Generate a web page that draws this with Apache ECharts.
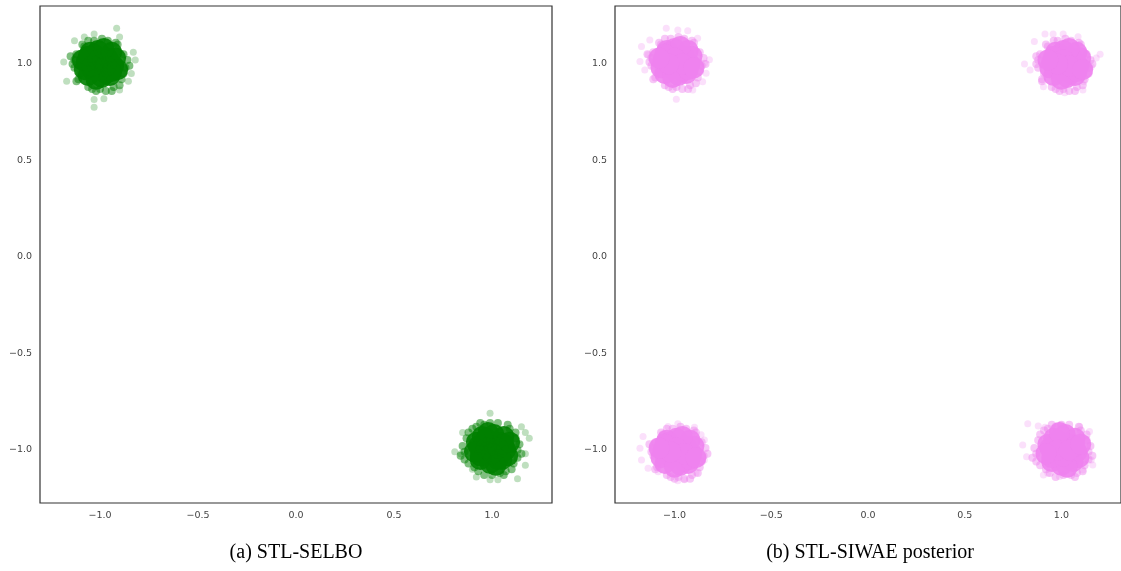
<!DOCTYPE html>
<html>
<head>
<meta charset="utf-8">
<script src="https://cdn.jsdelivr.net/npm/echarts@6/dist/echarts.min.js"></script>
<style>
  html, body { margin: 0; padding: 0; background: #fff; }
  #main { width: 1121px; height: 571px; }
</style>
</head>
<body>
<div id="main"></div>
<script>
// captions under each panel
var captions = ['(a) STL-SELBO', '(b) STL-SIWAE posterior'];

// (a) STL-SELBO, cluster near (-1, 1)
var selboA_core = [[-1.00,1.00],[-0.96,1.03],[-1.04,0.97],[-0.97,0.95],[-1.03,1.05],[-0.93,0.99],[-1.07,1.01],[-1.01,1.07],
  [-0.99,0.93],[-0.94,1.06],[-1.06,0.94],[-1.05,1.06],[-0.95,0.94],[-1.08,0.97],[-0.92,1.03],[-1.02,0.92],[-0.98,1.08],
  [-1.06,1.04],[-0.94,0.96],[-1.01,1.02],[-0.97,0.99],[-1.04,0.99],[-0.91,0.97],[-1.09,1.02]];
var selboA_ring = [[-0.88,1.05],[-0.87,0.98],[-0.89,0.92],[-0.93,0.88],[-1.00,0.87],[-1.06,0.88],[-1.11,0.92],[-1.13,0.98],
  [-1.12,1.05],[-1.09,1.10],[-1.03,1.12],[-0.96,1.12],[-0.91,1.10],[-0.86,1.02],[-0.90,0.89],[-1.13,1.02],[-1.10,0.95],
  [-0.97,0.86],[-1.04,0.87],[-1.08,1.09],[-0.92,1.11],[-0.99,1.13],[-1.14,1.00],[-0.88,0.95],[-1.12,0.91],[-1.06,1.12],
  [-0.85,0.99],[-0.94,0.86],[-1.15,1.04],[-1.02,0.86]];
var selboA_out = [[-0.915,1.185],[-0.90,1.14],[-0.83,1.06],[-0.82,1.02],[-0.84,0.95],[-0.855,0.91],[-0.90,0.865],[-0.98,0.82],
  [-1.03,0.815],[-1.03,0.775],[-1.185,1.01],[-1.17,0.91],[-1.13,1.12],[-1.03,1.155],[-1.08,1.14]];

// (a) STL-SELBO, cluster near (1, -1)
var selboB_core = [[1.00,-0.99],[1.04,-0.96],[0.96,-1.02],[1.03,-1.05],[0.97,-0.94],[1.07,-1.00],[0.93,-0.98],[0.99,-1.07],
  [1.01,-0.92],[1.06,-0.93],[0.94,-1.05],[1.05,-1.05],[0.95,-0.93],[1.08,-1.03],[0.92,-0.96],[1.02,-1.08],[0.98,-0.91],
  [0.94,-1.03],[1.06,-0.97],[1.00,-1.02],[0.97,-0.99],[1.03,-0.99],[0.91,-1.01],[1.09,-0.96]];
var selboB_ring = [[1.12,-0.94],[1.13,-1.00],[1.11,-1.07],[1.07,-1.11],[1.00,-1.13],[0.93,-1.11],[0.88,-1.07],[0.86,-1.01],
  [0.87,-0.94],[0.90,-0.89],[0.96,-0.87],[1.03,-0.86],[1.09,-0.89],[1.14,-0.97],[1.10,-1.10],[0.85,-0.98],[0.88,-0.91],
  [1.04,-1.12],[0.96,-1.13],[0.91,-1.09],[1.08,-0.87],[0.99,-0.86],[1.13,-1.04],[0.86,-1.05],[0.92,-0.88],[1.12,-0.91],
  [1.15,-1.02],[0.84,-1.03],[1.06,-1.13],[0.94,-0.86]];
var selboB_out = [[0.99,-0.81],[1.17,-0.91],[1.19,-0.94],[1.17,-1.02],[1.17,-1.08],[1.13,-1.15],[1.03,-1.155],[0.99,-1.155],
  [0.81,-1.01],[0.84,-1.02],[0.85,-0.91],[0.90,-1.10],[1.15,-0.88],[0.92,-1.14]];

// (b) STL-SIWAE posterior, four clusters
var siwaeC_core = [[-0.99,1.01],[-0.95,1.04],[-1.02,0.98],[-0.96,0.96],[-1.03,1.06],[-0.92,1.00],[-1.06,1.02],[-1.00,1.08],
  [-0.98,0.94],[-0.93,1.07],[-1.05,0.95],[-1.04,1.07],[-0.94,0.95],[-1.07,0.98],[-0.91,1.04],[-1.01,0.93],[-0.97,1.09],
  [-1.05,1.05],[-0.93,0.97],[-1.00,1.03],[-0.96,1.00],[-1.03,1.00],[-0.90,0.98],[-1.08,1.03]];
var siwaeC_ring = [[-0.87,1.06],[-0.86,0.99],[-0.88,0.93],[-0.92,0.89],[-0.99,0.88],[-1.05,0.89],[-1.10,0.93],[-1.12,0.99],
  [-1.11,1.06],[-1.08,1.11],[-1.02,1.13],[-0.95,1.13],[-0.90,1.11],[-0.85,1.03],[-0.89,0.90],[-1.12,1.03],[-1.09,0.96],
  [-0.96,0.87],[-1.03,0.88],[-1.07,1.10],[-0.91,1.12],[-0.98,1.14],[-1.13,1.01],[-0.87,0.96],[-1.11,0.92],[-1.05,1.13],
  [-0.84,1.00],[-0.93,0.87],[-1.14,1.05],[-1.01,0.87]];
var siwaeC_out = [[-1.043,1.185],[-0.983,1.176],[-0.932,1.172],[-0.881,1.133],[-0.82,1.021],[-0.846,1.004],[-0.837,0.952],
  [-0.855,0.908],[-0.906,0.865],[-0.991,0.817],[-1.179,1.012],[-1.171,1.09],[-1.128,1.124],[-1.137,1.047],[-1.154,0.969]];

var siwaeD_core = [[1.02,1.00],[1.06,1.03],[0.98,0.97],[1.05,0.95],[0.99,1.05],[1.09,0.99],[0.95,1.01],[1.01,1.07],
  [1.03,0.93],[1.08,1.06],[0.96,0.94],[0.97,1.06],[1.07,0.94],[0.94,0.98],[1.10,1.03],[1.00,0.92],[1.04,1.08],
  [0.96,1.04],[1.08,0.96],[1.01,1.02],[1.04,0.99],[0.98,1.00],[1.11,0.97],[0.93,1.02]];
var siwaeD_ring = [[1.13,1.05],[1.14,0.98],[1.12,0.92],[1.08,0.88],[1.01,0.87],[0.95,0.88],[0.90,0.92],[0.88,0.98],
  [0.89,1.05],[0.92,1.10],[0.98,1.12],[1.05,1.12],[1.10,1.10],[1.15,1.02],[1.11,0.89],[0.88,1.02],[0.91,0.95],
  [1.04,0.86],[0.97,0.87],[0.93,1.09],[1.09,1.11],[1.02,1.13],[0.87,1.00],[1.14,0.95],[0.90,0.91],[0.96,1.12],
  [1.16,1.00],[1.07,0.86],[0.87,1.04],[0.99,0.86]];
var siwaeD_out = [[0.809,1.0],[0.915,1.155],[0.957,1.155],[1.009,1.155],[0.86,1.116],[1.2,1.05],[1.18,1.03],[1.154,0.986],
  [1.116,0.908],[1.111,0.865],[1.017,0.851],[0.907,0.882],[0.838,0.969],[1.086,1.141]];

var siwaeE_core = [[-0.98,-1.01],[-0.94,-0.98],[-1.02,-1.04],[-0.95,-1.06],[-1.03,-0.96],[-0.91,-1.02],[-1.06,-1.00],
  [-0.99,-0.94],[-0.97,-1.08],[-0.92,-0.95],[-1.05,-1.07],[-1.04,-0.95],[-0.93,-1.07],[-1.07,-1.04],[-0.90,-0.98],
  [-1.00,-1.09],[-0.96,-0.93],[-1.05,-0.97],[-0.92,-1.05],[-0.99,-0.99],[-0.95,-1.02],[-1.02,-1.01],[-0.89,-1.04],[-1.08,-0.99]];
var siwaeE_ring = [[-0.86,-0.96],[-0.85,-1.03],[-0.87,-1.09],[-0.91,-1.13],[-0.98,-1.14],[-1.04,-1.13],[-1.09,-1.09],
  [-1.11,-1.03],[-1.10,-0.96],[-1.07,-0.91],[-1.01,-0.89],[-0.94,-0.89],[-0.89,-0.91],[-0.84,-0.99],[-0.88,-1.12],
  [-1.11,-0.99],[-1.08,-1.06],[-0.95,-1.15],[-1.02,-1.14],[-1.06,-0.92],[-0.90,-0.90],[-0.97,-0.88],[-1.12,-1.01],
  [-0.86,-1.06],[-1.10,-1.10],[-1.04,-0.89],[-0.83,-1.02],[-0.92,-1.15],[-1.13,-0.97],[-1.00,-1.15]];
var siwaeE_out = [[-0.983,-0.865],[-1.034,-0.879],[-0.897,-0.882],[-1.163,-0.931],[-1.179,-0.991],[-1.171,-1.052],
  [-1.137,-1.095],[-1.085,-1.113],[-0.949,-1.155],[-0.983,-1.16],[-0.889,-1.119],[-0.846,-1.052],[-0.846,-0.948],[-0.863,-0.922]];

var siwaeF_core = [[1.01,-1.00],[1.05,-0.97],[0.98,-1.03],[1.04,-1.05],[0.98,-0.95],[1.08,-1.01],[0.94,-0.99],[1.00,-1.08],
  [1.02,-0.92],[1.07,-0.94],[0.95,-1.06],[1.06,-1.06],[0.96,-0.94],[1.09,-1.04],[0.93,-0.97],[1.03,-1.09],[0.99,-0.91],
  [0.95,-1.04],[1.07,-0.98],[1.01,-1.03],[0.98,-1.00],[1.04,-1.00],[0.92,-1.02],[1.10,-0.97]];
var siwaeF_ring = [[1.13,-0.95],[1.14,-1.01],[1.12,-1.08],[1.08,-1.12],[1.01,-1.13],[0.94,-1.12],[0.89,-1.08],[0.87,-1.02],
  [0.88,-0.95],[0.91,-0.90],[0.97,-0.88],[1.04,-0.87],[1.10,-0.90],[1.15,-0.98],[1.11,-1.11],[0.86,-0.99],[0.89,-0.92],
  [1.05,-1.13],[0.97,-1.14],[0.92,-1.10],[1.09,-0.88],[1.00,-0.87],[1.14,-1.05],[0.87,-1.06],[0.93,-0.89],[1.13,-0.92],
  [1.16,-1.03],[0.85,-1.04],[1.07,-1.14],[0.95,-0.87]];
var siwaeF_out = [[0.826,-0.865],[0.88,-0.876],[0.915,-0.882],[0.996,-0.87],[1.094,-0.879],[1.145,-0.905],[0.80,-0.974],
  [1.154,-1.052],[1.162,-1.078],[0.907,-1.13],[0.93,-1.121],[0.99,-1.138],[1.111,-1.104],[0.82,-1.035]];

var chart = echarts.init(document.getElementById('main'));

function tickLabel(v) {
    if (Math.abs(v * 2 - Math.round(v * 2)) > 1e-6) return '';
    return v.toFixed(1).replace('-', '\u2212');
}

function makeAxis(idx, min, max) {
    return {
        type: 'value',
        gridIndex: idx,
        min: min,
        max: max,
        splitNumber: 5,
        axisLine: { show: false },
        axisTick: { show: false },
        splitLine: { show: false },
        axisLabel: {
            showMinLabel: false,
            showMaxLabel: false,
            formatter: tickLabel,
            fontFamily: 'DejaVu Sans',
            fontSize: 9.5,
            color: '#444',
            margin: 8
        }
    };
}

function layer(idx, color, data, size, alpha) {
    return {
        type: 'scatter',
        xAxisIndex: idx,
        yAxisIndex: idx,
        symbolSize: size,
        silent: true,
        itemStyle: { color: color, opacity: alpha },
        data: data
    };
}

var green = '#008000';
var violet = '#EE82EE';

var option = {
    animation: false,
    backgroundColor: '#fff',
    grid: [
        { left: 40, top: 6, width: 512, height: 497, show: true, borderColor: '#333', borderWidth: 1.2, backgroundColor: 'transparent' },
        { left: 615, top: 6, width: 510, height: 497, show: true, borderColor: '#333', borderWidth: 1.2, backgroundColor: 'transparent' }
    ],
    xAxis: [ makeAxis(0, -1.306, 1.306), makeAxis(1, -1.308, 1.308) ],
    yAxis: [ makeAxis(0, -1.275, 1.30), makeAxis(1, -1.275, 1.30) ],
    series: [
        layer(0, green, selboA_out.concat(selboB_out), 7, 0.25),
        layer(0, green, selboA_ring.concat(selboB_ring), 8, 0.5),
        layer(0, green, selboA_core.concat(selboB_core), 21, 0.9),
        layer(1, violet, siwaeC_out.concat(siwaeD_out, siwaeE_out, siwaeF_out), 7, 0.25),
        layer(1, violet, siwaeC_ring.concat(siwaeD_ring, siwaeE_ring, siwaeF_ring), 8, 0.45),
        layer(1, violet, siwaeC_core.concat(siwaeD_core, siwaeE_core, siwaeF_core), 21, 0.9)
    ],
    graphic: [
        { type: 'text', x: 296, y: 553, style: { text: captions[0], font: '20px "Liberation Serif"', fill: '#000', align: 'center', verticalAlign: 'middle' } },
        { type: 'text', x: 870, y: 553, style: { text: captions[1], font: '20px "Liberation Serif"', fill: '#000', align: 'center', verticalAlign: 'middle' } }
    ]
};

chart.setOption(option);
</script>
</body>
</html>
